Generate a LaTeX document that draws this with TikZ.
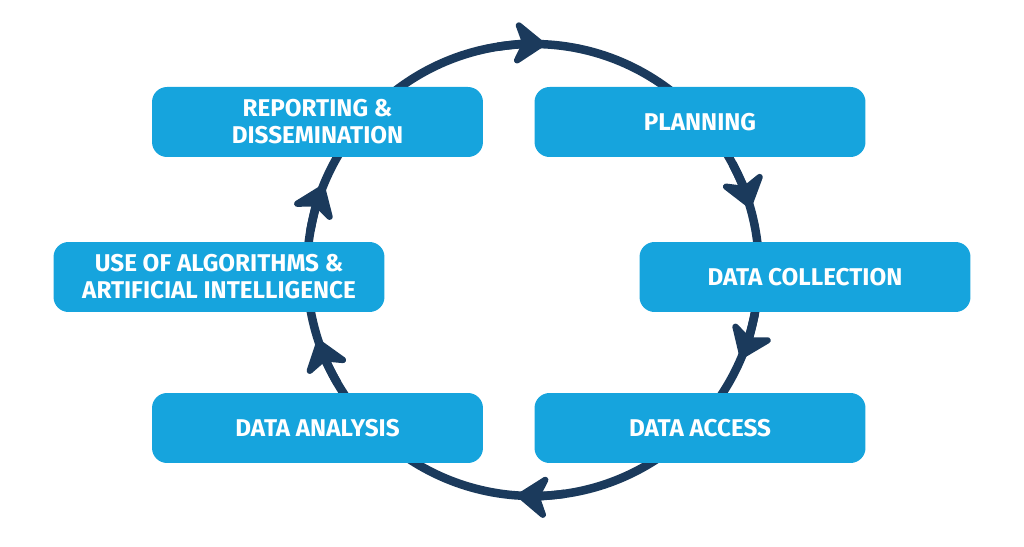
\documentclass[tikz,border=0pt]{standalone}
\usepackage{fontspec}
\setmainfont{Fira Sans}
\usetikzlibrary{arrows.meta,calc}
\definecolor{cycblue}{RGB}{22,164,221}
\definecolor{cycnavy}{RGB}{27,58,92}
\tikzset{
  stagebox/.style={fill=cycblue,draw=none,rounded corners=.3cm,
    minimum width=6.62cm,minimum height=1.4cm,inner sep=0pt,align=center,
    text=white,font=\bfseries\fontsize{13.8}{15.3}\selectfont},
  ring/.style={draw=cycnavy,line width=.17cm},
  ringtip/.style={ring,-{Stealth[length=.72cm,width=1.05cm,inset=.22cm,round]}}
}
\newcommand{\ringarrows}[1]{%
  \foreach \tip in {#1}{\draw[ringtip] ($(hub)+(\tip+12:226)$)
    arc[start angle=\tip+12,end angle=\tip,radius=226];}
}

\begin{document}
\begin{tikzpicture}[x=.02cm,y=.02cm]
  \useasboundingbox (0,0) rectangle (1024,547);
  \coordinate (hub) at (533,277);
  \draw[ring] (hub) circle[radius=226];
  \ringarrows{87,16,-23,-94,-162,158}
  \node[stagebox] (report) at (317.5,425) {REPORTING \&\\DISSEMINATION};
  \node[stagebox] (plan) at (700,425) {PLANNING};
  \node[stagebox] (algo) at (219,270) {USE OF ALGORITHMS \&\\ARTIFICIAL INTELLIGENCE};
  \node[stagebox] (collect) at (805,270) {DATA COLLECTION};
  \node[stagebox] (analysis) at (317.5,119) {DATA ANALYSIS};
  \node[stagebox] (access) at (700,119) {DATA ACCESS};
\end{tikzpicture}
\end{document}
